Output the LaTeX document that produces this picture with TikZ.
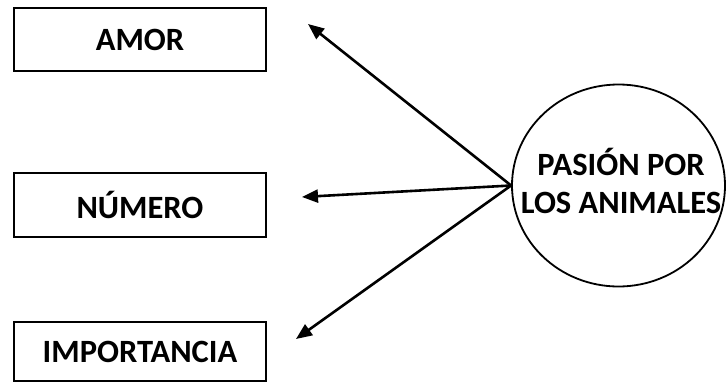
\documentclass[tikz,border=0pt]{standalone}
\usepackage{fontspec}
\setmainfont{Carlito}
\usetikzlibrary{arrows.meta,shapes.geometric}
\begin{document}
\begin{tikzpicture}[x=1pt,y=-1pt,
  lbl/.style={font=\fontsize{32.5}{40}\selectfont\bfseries},
  itembox/.style={lbl,draw,line width=2.6pt,minimum width=252pt,inner sep=0pt},
  topic/.style={draw,ellipse,line width=1.8pt,minimum width=213pt,minimum height=202pt,inner sep=0pt},
  topictext/.style={lbl,align=center,inner sep=0pt},
  link/.style={line width=2.6pt,-{Triangle[length=16pt,width=13pt]}}]
  \useasboundingbox (0,0) rectangle (726,383);
  % left-hand boxes
  \node[itembox,minimum height=63pt] (amor) at (140,39.5) {AMOR};
  \node[itembox,minimum height=64pt] (numero) at (140,205) {NÚMERO};
  \node[itembox,minimum height=59pt] (imp) at (140,351.5) {IMPORTANCIA};
  % central topic
  \node[topic] (pasion) at (618.5,185.5) {};
  \node[topictext] (pasiontext) at (621,181) {PASIÓN POR\\[-2pt]LOS ANIMALES};
  % arrow tips
  \coordinate (tA) at (308,24);
  \coordinate (tN) at (302,197);
  \coordinate (tI) at (296,339);
  \draw[link] (pasion.west) -- (tA);
  \draw[link] (pasion.west) -- (tN);
  \draw[link] (pasion.west) -- (tI);
\end{tikzpicture}
\end{document}
